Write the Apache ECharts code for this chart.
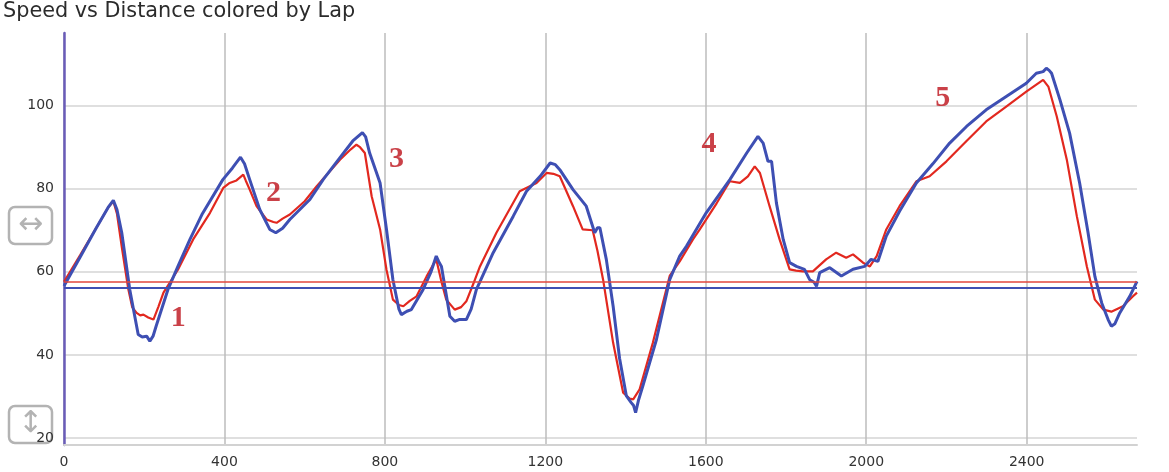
<!DOCTYPE html>
<html>
<head>
<meta charset="utf-8">
<script src="https://cdn.jsdelivr.net/npm/echarts@6/dist/echarts.min.js"></script>
<style>
html,body{margin:0;padding:0;background:#fff;}
#chart{width:1169px;height:472px;}
</style>
</head>
<body>
<div id="chart"></div>
<script>
const titleText = "Speed vs Distance colored by Lap";
const xTicks = [0, 400, 800, 1200, 1600, 2000, 2400];
const yTicks = [20, 40, 60, 80, 100];

// Lap (blue)
const blueDist = [0,40,80,110,123,132,144,164,175,185,195,206,214,222,230,259,284,314,345,396,420,440,450,463,488,513,528,545,563,613,646,688,720,744,752,762,788,804,820,835,841,855,866,895,915,928,934,941,952,962,974,985,1003,1015,1028,1070,1120,1153,1187,1212,1225,1236,1269,1302,1323,1330,1336,1352,1369,1385,1402,1414,1420,1425,1432,1443,1477,1510,1535,1552,1601,1660,1702,1730,1743,1755,1764,1776,1793,1809,1826,1846,1859,1870,1876,1884,1909,1938,1967,1996,2012,2029,2050,2083,2125,2166,2208,2250,2299,2349,2399,2424,2441,2449,2456,2462,2483,2507,2532,2553,2570,2587,2603,2611,2620,2632,2657,2675];
const blueSpeed = [56.6,63.5,70.5,75.5,77.2,75,69.4,55.7,50,44.9,44.3,44.5,43.3,44.5,47,55.7,61.3,67.8,74,82.2,85,87.6,86,82.2,75,70.2,69.4,70.5,72.6,77.4,82.2,87.5,91.5,93.5,92.5,88.6,81.4,70.2,58.1,51,49.7,50.5,50.9,55.7,60,63.8,62.5,61.3,55,49.3,48.1,48.5,48.5,51,55.7,64.6,73.4,79.4,83,86.2,85.8,84.6,79.8,75.8,69.4,70.6,70.6,63,51.7,39.2,30.1,28.5,27.8,26.1,29,32.5,43.7,58.1,63.8,66.2,74.2,82.2,88.6,92.6,91,86.6,86.6,76.6,67.8,62.2,61.3,60.6,58.1,57.5,56.5,59.8,61,59,60.6,61.3,63,62.5,68.6,74.6,81.4,86,91,95,99,102.2,105.4,107.8,108.2,109,108.5,107.8,101.4,93.4,81.4,69.4,58.9,52.5,48.5,46.9,47.5,50.1,54.1,57.7];

// Lap (red)
const redDist = [0,40,80,110,123,132,144,160,170,181,190,198,210,223,235,248,284,322,364,397,413,430,447,453,463,480,505,522,530,545,563,600,630,688,715,729,738,750,767,788,804,820,835,846,862,879,904,928,940,953,974,990,1003,1020,1037,1078,1136,1178,1203,1220,1236,1269,1293,1318,1330,1344,1369,1394,1410,1419,1435,1468,1510,1535,1568,1585,1627,1660,1685,1705,1722,1735,1759,1784,1809,1825,1842,1867,1900,1925,1950,1967,1992,2009,2026,2050,2083,2125,2158,2200,2250,2299,2349,2399,2441,2454,2475,2500,2525,2550,2570,2591,2611,2640,2665,2675];
const redSpeed = [57.6,64,70.5,75.5,77,74,66,56,51.5,50.1,49.5,49.7,49,48.5,51.5,55,60.5,67.8,74.2,80.2,81.4,82,83.4,82,79.8,75.8,72.6,72,71.8,72.8,73.8,77,80.6,87,89.5,90.6,90,88.6,78.2,70.2,60.5,53.3,52,51.7,53,54.1,58.9,63,58,53.3,50.9,51.5,52.9,57,61.3,69.4,79.4,81.4,83.8,83.6,83,75.8,70.2,70,65,58.1,42.9,30.9,29.5,29.3,31.7,42.9,59,62.5,67.8,70.2,76.5,81.8,81.4,83,85.4,83.8,75.8,67.8,60.6,60.3,60.1,60.1,63,64.6,63.4,64.2,62.2,61.3,63.8,70.2,75.8,81.8,83,86.6,91.5,96.2,99.8,103.4,106.2,104.6,97.4,87,73.4,61.3,53.3,50.9,50.4,51.7,54.1,55];

// horizontal reference lines (average speed per lap)
const redRef = 57.7;
const blueRef = 56.1;

// annotations
const annoDist = [285, 522, 829, 1608, 2191];
const annoSpeed = [48.9, 78.8, 87, 90.8, 101.8];
const annoText = ["1", "2", "3", "4", "5"];

const zip = (a, b) => a.map((v, i) => [v, b[i]]);

const chart = echarts.init(document.getElementById('chart'), null, {renderer: 'canvas'});
chart.setOption({
  animation: false,
  backgroundColor: '#ffffff',
  title: {
    text: titleText, left: -2, top: -4,
    textStyle: {fontFamily: 'DejaVu Sans', fontSize: 20.8, fontWeight: 'normal', color: '#2b2b2b'}
  },
  grid: {left: 64, right: 32, top: 33, bottom: 27, containLabel: false},
  xAxis: {
    type: 'value', min: 0, max: 2675,
    axisLine: {show: true, lineStyle: {color: '#d2d2d2', width: 2}},
    axisTick: {show: false, customValues: xTicks},
    axisLabel: {customValues: xTicks, margin: 10, formatter: v => String(v),
      fontFamily: 'DejaVu Sans', fontSize: 14, color: '#333333'},
    splitLine: {show: true, lineStyle: {color: '#bcbcbc', width: 1.5}}
  },
  yAxis: {
    type: 'value', min: 18.3, max: 117.5,
    axisLine: {show: true, lineStyle: {color: '#6a5cb8', width: 2.5}},
    axisTick: {show: false, customValues: yTicks},
    axisLabel: {customValues: yTicks, margin: 10, formatter: v => String(v),
      fontFamily: 'DejaVu Sans', fontSize: 14, color: '#333333'},
    splitLine: {show: true, lineStyle: {color: '#d4d4d4', width: 1.5}}
  },
  graphic: [
    {type: 'rect', shape: {x: 9, y: 207, width: 43, height: 37, r: 6}, style: {fill: 'none', stroke: '#b3b3b3', lineWidth: 2.5}},
    {type: 'text', x: 30.5, y: 225.5, style: {text: '\u2194', fontSize: 30, fontFamily: 'DejaVu Sans', fill: '#b3b3b3', align: 'center', verticalAlign: 'middle'}},
    {type: 'rect', shape: {x: 9, y: 406, width: 43, height: 37, r: 6}, style: {fill: 'none', stroke: '#b3b3b3', lineWidth: 2.5}},
    {type: 'text', x: 30.5, y: 424.5, style: {text: '\u2195', fontSize: 30, fontFamily: 'DejaVu Sans', fill: '#b3b3b3', align: 'center', verticalAlign: 'middle'}}
  ],
  series: [
    {
      type: 'line', data: zip(redDist, redSpeed), showSymbol: false, z: 3,
      lineStyle: {color: '#e2281f', width: 2.2},
      markLine: {silent: true, symbol: 'none', label: {show: false},
        lineStyle: {color: '#e0463c', width: 1.5, type: 'solid'}, data: [{yAxis: redRef}]}
    },
    {
      type: 'line', data: zip(blueDist, blueSpeed), showSymbol: false, z: 4,
      lineStyle: {color: '#3e4fb3', width: 3},
      markLine: {silent: true, symbol: 'none', label: {show: false},
        lineStyle: {color: '#3e4fb3', width: 2, type: 'solid'}, data: [{yAxis: blueRef}]}
    },
    {
      type: 'scatter', data: zip(annoDist, annoSpeed), symbolSize: 0, z: 5, silent: true,
      label: {show: true, position: 'inside', formatter: p => annoText[p.dataIndex],
        fontFamily: 'Liberation Serif', fontWeight: 'bold', fontSize: 30, color: '#bd111a'}
    }
  ]
});
</script>
</body>
</html>
